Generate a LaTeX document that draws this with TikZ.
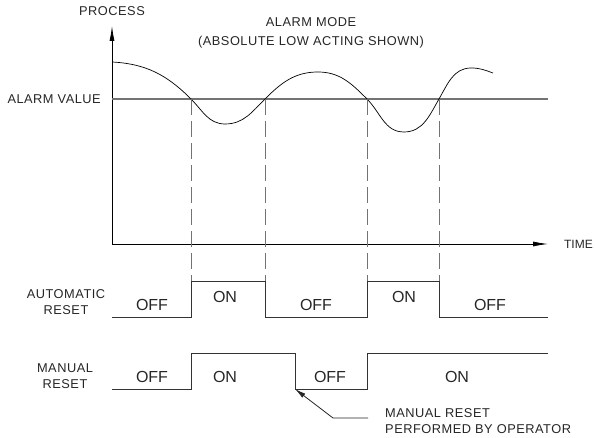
\documentclass[tikz,border=0pt]{standalone}
\usepackage{fontspec}
\setmainfont{Liberation Sans}
\newfontfamily\cadfont{Liberation Sans}[LetterSpace=4]
\usetikzlibrary{arrows.meta,positioning}

\begin{document}
\begin{tikzpicture}[
  x=1pt, y=1pt,
  axis/.style={draw=black, line width=0.8pt},
  limit/.style={draw=black!55, line width=1.5pt},
  guide/.style={draw=black!55, line width=0.9pt, dash pattern=on 16pt off 6pt},
  wave/.style={draw=black!80, line width=0.9pt},
  label/.style={font=\cadfont\fontsize{12.8}{15.5}\selectfont, text=black!85, align=center, inner sep=0pt},
  state/.style={font=\fontsize{16}{18}\selectfont, text=black!85, inner sep=0pt},
  >={Latex[length=15pt,width=5pt]}
]
  \useasboundingbox (0,0) rectangle (595,438);

  % axes
  \coordinate (origin) at (112,194);
  \coordinate (ytip)   at (112,412);
  \coordinate (xtip)   at (548,194);
  \draw[axis, ->] (origin) -- (ytip);
  \draw[axis, ->] (origin) -- (xtip);
  \node[label] (process) at (112,427) {PROCESS};
  \node[label, font=\fontsize{12}{14}\selectfont, anchor=east] (time) at (593,194) {TIME};

  % alarm value
  \coordinate (av0) at (112,339);
  \coordinate (av1) at (548,339);
  \draw[limit] (av0) -- (av1);
  \node[label, anchor=east] (alarmvalue) at (101,339) {ALARM VALUE};
  \node[label, font=\cadfont\fontsize{12.8}{19}\selectfont] (mode) at (311,405)
    {ALARM MODE\\(ABSOLUTE LOW ACTING SHOWN)};

  % process curve
  \draw[black, line width=0.7pt] (112,376)
    to[out=-3, in=135] (191,339)
    to[out=-45, in=180] (225,314)
    to[out=0, in=-135] (265,339)
    to[out=45, in=180] (318,366)
    to[out=0, in=135] (367,339)
    to[out=-45, in=180] (404,306)
    to[out=0, in=-120] (439,339)
    to[out=60, in=180] (471,370)
    to[out=0, in=160] (493,365);

  % crossings
  \coordinate (top) at (0,157);
  \foreach \name/\x in {c1/191, c2/265, c3/367, c4/439} {
    \coordinate (\name) at (\x,339);
    \draw[guide] (\name) -- (\name |- top);
  }

  % automatic reset
  \node[label] (autolabel) at (66,136) {AUTOMATIC\\RESET};
  \draw[wave] (112,121) -- (191,121) -- (191,157) -- (265,157) -- (265,121)
    -- (367,121) -- (367,157) -- (439,157) -- (439,121) -- (548,121);
  \node[state] (aoff1) at (152,133) {OFF};
  \node[state] (aon1)  at (225,141) {ON};
  \node[state] (aoff2) at (316,133) {OFF};
  \node[state] (aon2)  at (404,141) {ON};
  \node[state] (aoff3) at (490,133) {OFF};

  % manual reset
  \node[label] (manlabel) at (65,62) {MANUAL\\RESET};
  \draw[wave] (112,49) -- (191,49) -- (191,85) -- (295,85) -- (295,49)
    -- (367,49) -- (367,85) -- (548,85);
  \node[state] (moff1) at (152,61) {OFF};
  \node[state] (mon1)  at (225,61) {ON};
  \node[state] (moff2) at (330,61) {OFF};
  \node[state] (mon2)  at (457,61) {ON};

  % operator note
  \coordinate (reset) at (295,49);
  \coordinate (kink)  at (333,20);
  \coordinate (lead)  at (368,20);
  \draw[black!85, line width=0.8pt, {Latex[length=11pt,width=5pt]}-] (reset) -- (kink) -- (lead);
  \node[label, align=left, anchor=west] (note) at (385,17)
    {MANUAL RESET\\PERFORMED BY OPERATOR};
\end{tikzpicture}
\end{document}
